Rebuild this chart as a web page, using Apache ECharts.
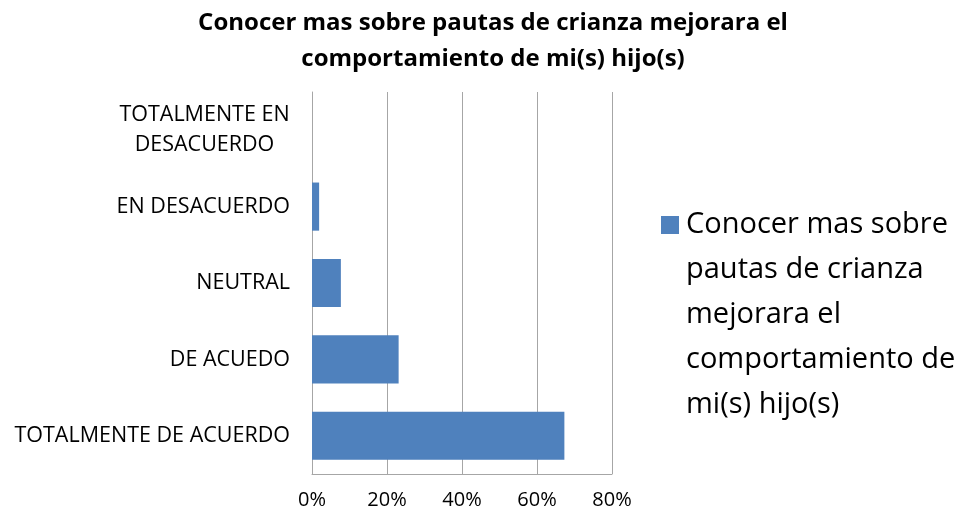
<!DOCTYPE html>
<html>
<head>
<meta charset="utf-8">
<script src="https://cdn.jsdelivr.net/npm/echarts@6/dist/echarts.min.js"></script>
<style>html,body{margin:0;padding:0;background:#fff}#c{width:961px;height:522px}</style>
</head>
<body>
<div id="c"></div>
<script>
const titleText = 'Conocer mas sobre pautas de crianza mejorara el\ncomportamiento de mi(s) hijo(s)';
const seriesName = 'Conocer mas sobre pautas de crianza mejorara el comportamiento de mi(s) hijo(s)';
const legendLines = ['Conocer mas sobre', 'pautas de crianza', 'mejorara el', 'comportamiento de', 'mi(s) hijo(s)'];
const categories = ['TOTALMENTE DE ACUERDO', 'DE ACUEDO', 'NEUTRAL', 'EN DESACUERDO', 'TOTALMENTE EN\nDESACUERDO'];
const values = [67.3, 23.1, 7.7, 1.9, 0];
const xTicks = [0, 20, 40, 60, 80];

const FONT = 'Open Sans';
const LH = 45;
const YFS = 21.5;
const blockH = legendLines.length * LH;
const sq = 18;
const off = (LH - sq) / 2;
const iconPath = 'path://M0,0M0,' + off + 'H' + sq + 'V' + (off + sq) + 'H0ZM0,' + blockH;

// width of the widest line of multi-line category labels (for centred wrapping)
const ctx = document.createElement('canvas').getContext('2d');
ctx.font = YFS + 'px "' + FONT + '"';
function maxLineW(s) { return Math.max(...s.split('\n').map(l => ctx.measureText(l).width)); }

const chart = echarts.init(document.getElementById('c'));
chart.setOption({
  animation: false,
  backgroundColor: '#fff',
  title: {
    text: titleText,
    left: 488, top: 0, textAlign: 'center',
    textStyle: {fontFamily: FONT, fontWeight: 'bold', fontSize: 24, color: '#000', lineHeight: 36}
  },
  legend: {
    orient: 'vertical',
    left: 661, top: 225 - LH / 2,
    padding: 0,
    itemWidth: sq, itemHeight: blockH, itemGap: 0,
    icon: iconPath,
    formatter: () => legendLines.join('\n'),
    textStyle: {fontFamily: FONT, fontSize: 29, color: '#000', lineHeight: LH, padding: [0, 0, 0, 2]}
  },
  grid: {left: 312, right: 349, top: 92, bottom: 48},
  xAxis: {
    type: 'value', min: 0, max: 80, interval: 20,
    axisLine: {show: true, lineStyle: {color: '#a6a6a6'}},
    axisTick: {show: false},
    splitLine: {show: true, lineStyle: {color: '#a6a6a6'}},
    axisLabel: {
      formatter: v => xTicks.includes(v) ? v + '%' : '',
      fontFamily: FONT, fontSize: 20, color: '#000', margin: 16
    }
  },
  yAxis: {
    type: 'category', data: categories,
    axisLine: {show: true, lineStyle: {color: '#a6a6a6'}},
    axisTick: {show: false},
    axisLabel: {
      fontFamily: FONT, fontSize: YFS, color: '#000', margin: 22, lineHeight: 30,
      formatter: v => v.includes('\n') ? v.split('\n').map(s => '{c|' + s + '}').join('\n') : v,
      rich: {c: {width: Math.ceil(maxLineW(categories[4])), align: 'center', fontFamily: FONT, fontSize: YFS, color: '#000', lineHeight: 30}}
    }
  },
  series: [{
    name: seriesName,
    type: 'bar',
    data: values,
    barCategoryGap: '37%',
    itemStyle: {color: '#4f81bd', borderWidth: 0}
  }]
});
</script>
</body>
</html>
